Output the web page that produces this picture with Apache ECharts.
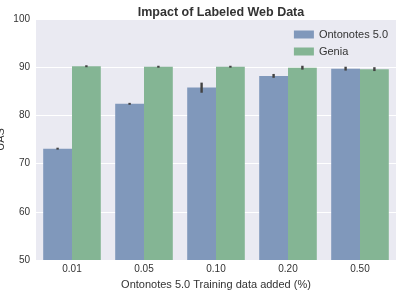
<!DOCTYPE html>
<html>
<head>
<meta charset="utf-8">
<script src="https://cdn.jsdelivr.net/npm/echarts@6/dist/echarts.min.js"></script>
<style>
  html, body { margin: 0; padding: 0; background: #fff; }
  #main { width: 405px; height: 292px; }
</style>
</head>
<body>
<div id="main"></div>
<script>
var categories = ['0.01', '0.05', '0.10', '0.20', '0.50'];
var ontonotes = [73.1, 82.4, 85.8, 88.2, 89.7];
var genia = [90.2, 90.1, 90.1, 89.9, 89.6];
// error bar ranges [low, high]
var ontonotesErr = [[72.9, 73.3], [82.2, 82.6], [84.7, 86.8], [87.8, 88.6], [89.3, 90.1]];
var geniaErr = [[90.0, 90.4], [89.9, 90.3], [89.9, 90.3], [89.5, 90.3], [89.2, 90.0]];

var dom = document.getElementById('main');
var myChart = echarts.init(dom, null, { renderer: 'canvas' });

function errSeries(name, errs, side) {
  return {
    name: name + ' err',
    type: 'custom',
    data: errs.map(function (e, i) { return [i, e[0], e[1]]; }),
    z: 10,
    silent: true,
    renderItem: function (params, api) {
      var band = api.size([1, 0])[0];
      var lo = api.coord([api.value(0), api.value(1)]);
      var hi = api.coord([api.value(0), api.value(2)]);
      var x = lo[0] + side * band * 0.2;
      return {
        type: 'line',
        shape: { x1: x, y1: lo[1], x2: x, y2: hi[1] },
        style: { stroke: '#424242', lineWidth: 2.4 }
      };
    }
  };
}

var option = {
  backgroundColor: '#ffffff',
  animation: false,
  textStyle: { fontFamily: 'Liberation Sans, Arial, sans-serif' },
  title: {
    text: 'Impact of Labeled Web Data',
    left: 216,
    textAlign: 'center',
    top: 1,
    textStyle: { fontSize: 12.5, fontWeight: 'bold', color: '#333' }
  },
  legend: {
    data: ['Ontonotes 5.0', 'Genia'],
    orient: 'vertical',
    right: 12,
    top: 24,
    icon: 'rect',
    itemWidth: 20,
    itemHeight: 8,
    itemGap: 6,
    textStyle: { fontSize: 11, color: '#333' }
  },
  grid: {
    left: 36, right: 9, top: 19, bottom: 32,
    outerBoundsMode: 'none',
    containLabel: false,
    show: true,
    backgroundColor: '#eaeaf2',
    borderWidth: 0
  },
  xAxis: {
    type: 'category',
    data: categories,
    name: 'Ontonotes 5.0 Training data added (%)',
    nameLocation: 'middle',
    nameGap: 19,
    nameTextStyle: { fontSize: 11, color: '#333' },
    axisLine: { show: false },
    axisTick: { show: false },
    axisLabel: { fontSize: 10, color: '#333', margin: 4 }
  },
  yAxis: {
    type: 'value',
    min: 50,
    max: 100,
    interval: 10,
    name: 'UAS',
    nameLocation: 'middle',
    nameGap: 30,
    nameMoveOverlap: false,
    nameTextStyle: { fontSize: 11, color: '#333' },
    axisLine: { show: false },
    axisTick: { show: false },
    axisLabel: { fontSize: 10, color: '#333', margin: 6 },
    splitLine: { lineStyle: { color: '#ffffff', width: 1 } }
  },
  series: [
    {
      name: 'Ontonotes 5.0',
      type: 'bar',
      data: ontonotes,
      barGap: '0%',
      barCategoryGap: '20%',
      itemStyle: { color: '#8098bb' }
    },
    {
      name: 'Genia',
      type: 'bar',
      data: genia,
      itemStyle: { color: '#84b594' }
    },
    errSeries('Ontonotes 5.0', ontonotesErr, -1),
    errSeries('Genia', geniaErr, 1)
  ]
};

myChart.setOption(option);
window.addEventListener('resize', myChart.resize);
</script>
</body>
</html>
